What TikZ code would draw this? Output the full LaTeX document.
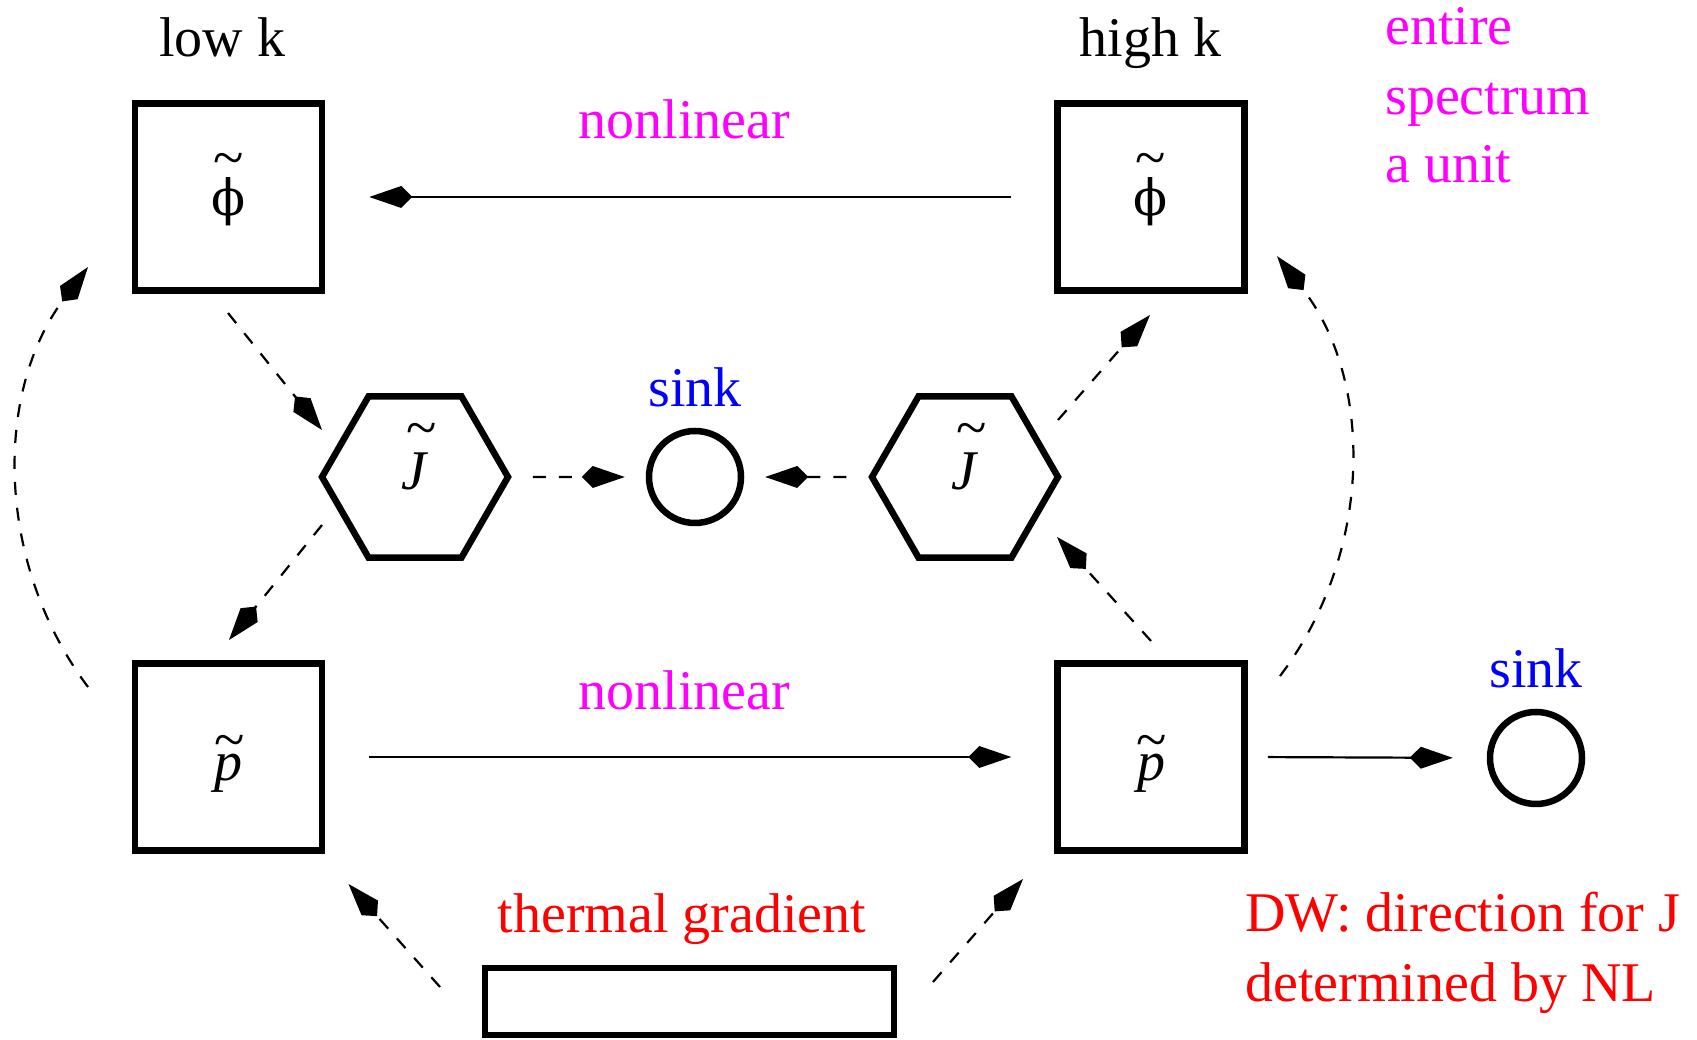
\documentclass[tikz,border=0pt]{standalone}
\usepackage{fontspec}
\setmainfont{Liberation Serif}
\newfontfamily\grkfont{DejaVu Serif}
\usetikzlibrary{arrows.meta,shapes.geometric}
\definecolor{mag}{HTML}{FF00FF}
\definecolor{blu}{HTML}{0000FF}
\definecolor{rd}{HTML}{FF0000}
% letter with a tilde above it: #1 letter, #2 raise of the tilde, #3 shift right
\newcommand\tldlbl[3]{\ooalign{#1\cr\hidewidth\raisebox{#2}{\kern#3\char"007E}\hidewidth\cr}}
\begin{document}
\begin{tikzpicture}[x=1pt,y=1pt,
  lbl/.style={font=\fontsize{56}{67}\selectfont,inner sep=0pt},
  box/.style={draw,line width=6.5pt,minimum size=187pt,inner sep=0pt},
  hexa/.style={draw,regular polygon,regular polygon sides=6,line width=6.5pt,minimum size=186pt,inner sep=0pt},
  sinkc/.style={draw,circle,line width=6.5pt,minimum size=92pt,inner sep=0pt},
  arrowhd/.style={-{Kite[length=43pt,width=22pt,inset=11pt]}},
  sar/.style={arrowhd,line width=2.2pt},
  dar/.style={arrowhd,line width=2.2pt,dash pattern=on 13pt off 13pt},
]
\useasboundingbox (0,0) rectangle (1697,1040);

% main nodes
\node[box,lbl] (phiL) at (228.5,843) {\tldlbl{{\grkfont\fontsize{50}{60}\selectfont ϕ}}{39pt}{0pt}};
\node[box,lbl] (phiH) at (1151,843) {\tldlbl{{\grkfont\fontsize{50}{60}\selectfont ϕ}}{39pt}{0pt}};
\node[box,lbl] (pL) at (228.5,283) {\raisebox{-10pt}[\height][\depth]{\tldlbl{\textit{p}}{22pt}{2pt}}};
\node[box,lbl] (pH) at (1151,283) {\raisebox{-10pt}[\height][\depth]{\tldlbl{\textit{p}}{22pt}{2pt}}};
\node[hexa,lbl] (JL) at (415,563) {\raisebox{6pt}[\height][\depth]{\tldlbl{\textit{J}}{43pt}{14pt}}};
\node[hexa,lbl] (JH) at (965,563) {\raisebox{6pt}[\height][\depth]{\tldlbl{\textit{J}}{43pt}{14pt}}};
\node[sinkc] (sinkM) at (695,563) {};
\node[sinkc] (sinkR) at (1536,282) {};
\node[draw,line width=6.5pt,minimum width=409pt,minimum height=67pt,inner sep=0pt] (therm) at (689.5,38.5) {};

% labels
\node[lbl,anchor=base] (lowk) at (222,983) {low k};
\node[lbl,anchor=base] (highk) at (1150.5,983) {high k};
\node[lbl,anchor=base,text=mag] (nl1) at (684.5,901.5) {nonlinear};
\node[lbl,anchor=base,text=mag] (nl2) at (684.5,330) {nonlinear};
\node[lbl,anchor=base,text=blu] (sk1) at (695,633) {sink};
\node[lbl,anchor=base,text=blu] (sk2) at (1536,352) {sink};
\node[lbl,anchor=base west,text=mag] (ent1) at (1385,995) {entire};
\node[lbl,anchor=base west,text=mag] (ent2) at (1385,925) {spectrum};
\node[lbl,anchor=base west,text=mag] (ent3) at (1385,857) {a unit};
\node[lbl,anchor=base west,text=rd] (dw1) at (1245,108) {DW: direction for J};
\node[lbl,anchor=base west,text=rd] (dw2) at (1245,38) {determined by NL};
\node[lbl,anchor=base,text=rd] (tg) at (682,107) {thermal gradient};

% solid connectors
\draw[sar,shorten <=43pt,shorten >=44pt] (phiH.west) -- (phiL.east);
\draw[sar,shorten <=44pt,shorten >=43pt] (pL.east) -- (pH.west);
\draw[sar,shorten <=20pt,shorten >=34pt] (pH.east) -- (sinkR.west);

% dashed horizontal connectors
\draw[dar,shorten <=21pt,shorten >=21pt] (JL.east) -- (sinkM.west);
\draw[dar,shorten <=22pt,shorten >=21pt] (JH.west) -- (sinkM.east);

% free ends of diagonal connectors
\coordinate (d1s) at (228,727);  \coordinate (d1e) at (322,610);
\coordinate (d2s) at (322,515);  \coordinate (d2e) at (229,400);
\coordinate (d3s) at (1151,399); \coordinate (d3e) at (1057,503);
\coordinate (d4s) at (1058,620); \coordinate (d4e) at (1150,725);
\coordinate (d5s) at (440,53);   \coordinate (d5e) at (348.5,156);
\coordinate (d6s) at (933,58);   \coordinate (d6e) at (1023,161);
\coordinate (cLs) at (88,353);
\coordinate (cRs) at (1280,364);

\draw[dar] (d1s) -- (d1e);
\draw[dar] (d2s) -- (d2e);
\draw[dar] (d3s) -- (d3e);
\draw[dar] (d4s) -- (d4e);
\draw[dar] (d5s) -- (d5e);
\draw[dar] (d6s) -- (d6e);

% curved connectors
\draw[dar] (cLs) arc[start angle=216.87,end angle=143.13,radius=350];
\draw[dar] (cRs) arc[start angle=-37.2,end angle=38,radius=344];
\end{tikzpicture}
\end{document}
